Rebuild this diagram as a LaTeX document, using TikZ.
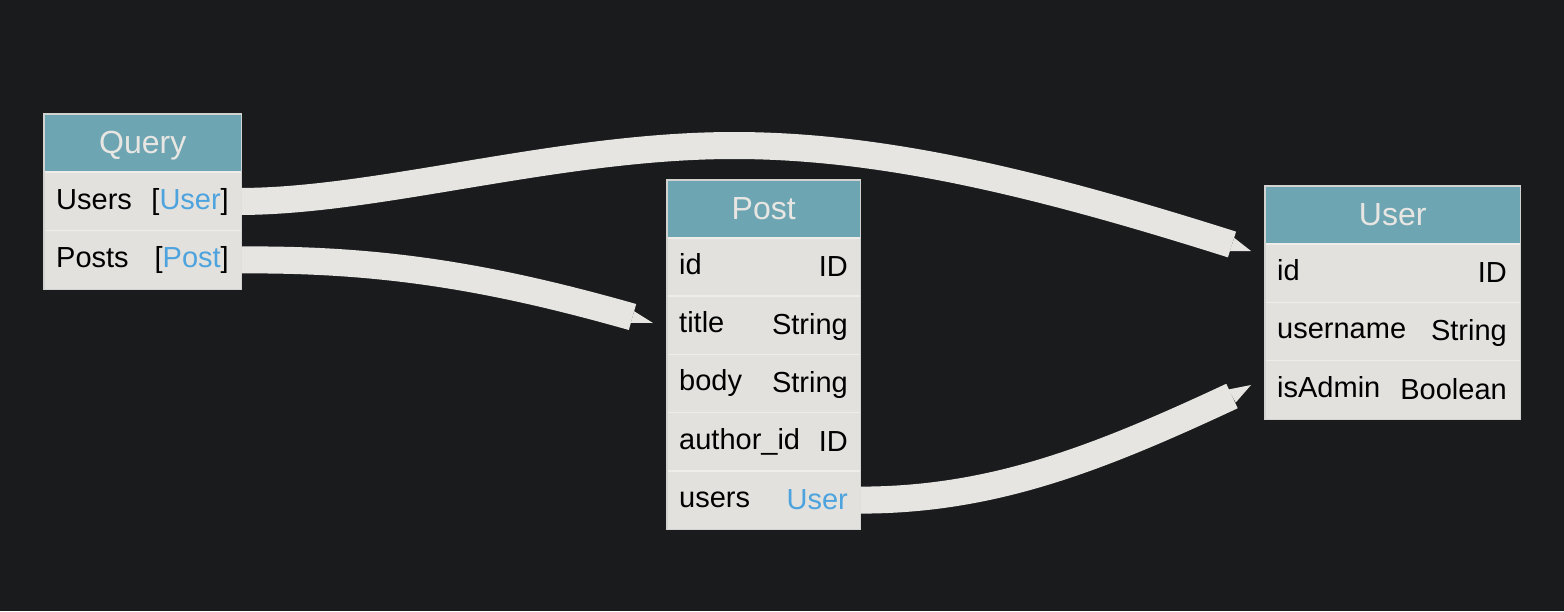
\documentclass[tikz,border=0pt]{standalone}
\usepackage{fontspec}
\setmainfont{Liberation Sans}
\usetikzlibrary{calc}
\definecolor{bg}{HTML}{1A1B1D}
\definecolor{hdrcol}{HTML}{6EA5B3}
\definecolor{hdrtxt}{HTML}{E8E6E2}
\definecolor{rowcol}{HTML}{E2E1DD}
\definecolor{sepcol}{HTML}{EEEDEA}
\definecolor{bordercol}{HTML}{D2D2D0}
\definecolor{linkcol}{HTML}{4CA3DD}
\definecolor{bandcol}{HTML}{E6E5E1}
\begin{document}
\begin{tikzpicture}[x=1pt,y=-1pt,
  hdr/.style={fill=hdrcol, minimum height=58pt, inner sep=0pt, anchor=north west,
    text=hdrtxt, font=\fontsize{32}{38}\selectfont, text height=26pt, text depth=6pt},
  rowbox/.style={fill=rowcol, inner sep=0pt, anchor=north west},
  lt/.style={anchor=base west, inner sep=0pt, font=\fontsize{29}{34}\selectfont, text=black},
  rt/.style={anchor=base east, inner sep=0pt, font=\fontsize{29}{34}\selectfont, text=black},
  sep/.style={draw=sepcol, line width=1.5pt},
  frame/.style={draw=bordercol, line width=1.5pt},
  band/.style={draw=bandcol, line width=27pt},
  tipfill/.style={fill=bandcol}]
\fill[bg] (0,0) rectangle (1564,611);
\useasboundingbox (0,0) rectangle (1564,611);

% ---------- Query ----------
\node[hdr, minimum width=197pt] (qh) at (44,114) {Query};
\node[rowbox, minimum width=197pt, minimum height=58.5pt] (qusers) at (44,172) {};
\node[rowbox, minimum width=197pt, minimum height=58.5pt] (qposts) at (44,230.5) {};
\node[lt] (qusersn) at (56,209) {Users};
\node[rt] (quserst) at (229,209) {[\textcolor{linkcol}{User}]};
\node[lt] (qpostsn) at (56,267) {Posts};
\node[rt] (qpostst) at (229,267) {[\textcolor{linkcol}{Post}]};
\draw[sep] (qusers.north west) -- (qusers.north east);
\draw[sep] (qposts.north west) -- (qposts.north east);
\draw[frame] (qh.north west) rectangle (qposts.south east);

% ---------- Post ----------
\node[hdr, minimum width=193pt] (ph) at (667,180) {Post};
\node[rowbox, minimum width=193pt, minimum height=58.2pt] (pid) at (667,238) {};
\node[rowbox, minimum width=193pt, minimum height=58.2pt] (ptitle) at (667,296.2) {};
\node[rowbox, minimum width=193pt, minimum height=58.2pt] (pbody) at (667,354.4) {};
\node[rowbox, minimum width=193pt, minimum height=58.2pt] (pauthor) at (667,412.6) {};
\node[rowbox, minimum width=193pt, minimum height=58.2pt] (pusers) at (667,470.8) {};
\node[lt] (pidn) at (679,274.5) {id};
\node[rt] (pidt) at (848,276.5) {ID};
\node[lt] (ptitlen) at (679,332.7) {title};
\node[rt] (ptitlet) at (848,334.7) {String};
\node[lt] (pbodyn) at (679,390.9) {body};
\node[rt] (pbodyt) at (848,392.9) {String};
\node[lt] (pauthorn) at (679,449.1) {author\_id};
\node[rt] (pauthort) at (848,451.1) {ID};
\node[lt] (pusersn) at (679,507.3) {users};
\node[rt] (puserst) at (848,509.3) {\textcolor{linkcol}{User}};
\foreach \r in {pid,ptitle,pbody,pauthor,pusers}
  \draw[sep] (\r.north west) -- (\r.north east);
\draw[frame] (ph.north west) rectangle (pusers.south east);

% ---------- User ----------
\node[hdr, minimum width=255pt] (uh) at (1265,186) {User};
\node[rowbox, minimum width=255pt, minimum height=58.3pt] (uid) at (1265,244) {};
\node[rowbox, minimum width=255pt, minimum height=58.3pt] (uname) at (1265,302.3) {};
\node[rowbox, minimum width=255pt, minimum height=58.3pt] (uadmin) at (1265,360.6) {};
\node[lt] (uidn) at (1277,280.5) {id};
\node[rt] (uidt) at (1507,282.5) {ID};
\node[lt] (unamen) at (1277,338.8) {username};
\node[rt] (unamet) at (1507,340.8) {String};
\node[lt] (uadminn) at (1277,397.1) {isAdmin};
\node[rt] (uadmint) at (1507,399.1) {Boolean};
\foreach \r in {uid,uname,uadmin}
  \draw[sep] (\r.north west) -- (\r.north east);
\draw[frame] (uh.north west) rectangle (uadmin.south east);

% ---------- connectors ----------
\coordinate (e1b) at (1232,244.5);
\coordinate (e1t) at (1251,251);
\coordinate (e2b) at (632.5,317);
\coordinate (e2t) at (653,323);
\coordinate (e3b) at (1232,396);
\coordinate (e3t) at (1251,385);

\draw[band] (qusers.east) .. controls (380,201) and (560,145.5) .. (734,145.5)
  .. controls (884,145.5) and (1041.4,184.1) .. (e1b);
\fill[tipfill] ($(e1b)!7pt!90:(e1t)$) -- (e1t) -- ($(e1b)!7pt!-90:(e1t)$) -- cycle;

\draw[band] (qposts.east) .. controls (380,259) and (488,276) .. (e2b);
\fill[tipfill] ($(e2b)!6pt!90:(e2t)$) -- (e2t) -- ($(e2b)!6pt!-90:(e2t)$) -- cycle;

\draw[band] (pusers.east) .. controls (992,500) and (1096,459.5) .. (e3b);
\fill[tipfill] ($(e3b)!7.5pt!90:(e3t)$) -- (e3t) -- ($(e3b)!7.5pt!-90:(e3t)$) -- cycle;
\end{tikzpicture}
\end{document}
